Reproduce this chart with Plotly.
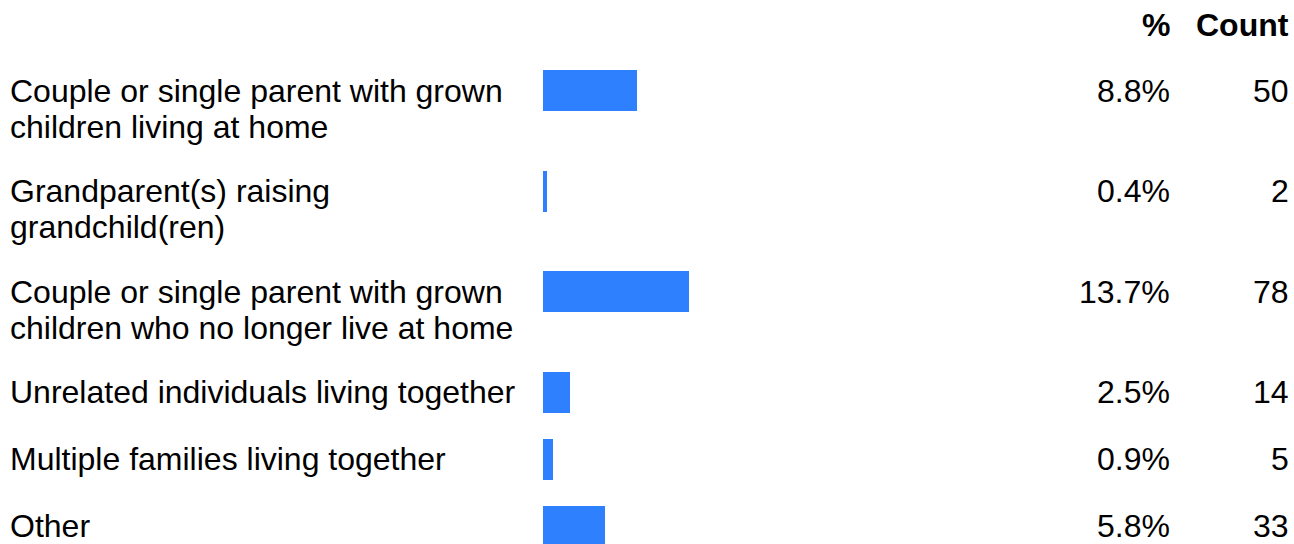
import plotly.graph_objects as go

categories = [
    "Couple or single parent with grown<br>children living at home",
    "Grandparent(s) raising<br>grandchild(ren)",
    "Couple or single parent with grown<br>children who no longer live at home",
    "Unrelated individuals living together",
    "Multiple families living together",
    "Other",
]
percents = [8.8, 0.4, 13.7, 2.5, 0.9, 5.8]
counts = [50, 2, 78, 14, 5, 33]
headers = ["%", "Count"]

W, H = 1294, 544
FONT = "Liberation Sans, Arial, sans-serif"
FS = 32
BAR_COLOR = "#2f80ff"

# layout computations (pixels)
line_step = 36
row_unit = 33.5
bar_h = 41
top = 70.0
centers = []
for cat in categories:
    n = len(cat.split("<br>"))
    centers.append(top + bar_h / 2)
    top += row_unit * (n + 1)

x0_px = 543
px_per_pct = 10.67
xmax = 50
dom_end = (x0_px + px_per_pct * xmax) / W

fig = go.Figure()
fig.add_trace(go.Bar(
    x=percents, y=centers, orientation="h", width=bar_h,
    marker=dict(color=BAR_COLOR, line=dict(width=0)),
    hoverinfo="skip", showlegend=False,
))

font = dict(family=FONT, size=FS, color="black")
ann = []
for cat, c, p, n in zip(categories, centers, percents, counts):
    for i, line in enumerate(cat.split("<br>")):
        ann.append(dict(xref="paper", yref="y", x=8 / W, y=c + i * line_step,
                        xanchor="left", yanchor="middle", text=line, showarrow=False,
                        font=font))
    ann.append(dict(xref="paper", yref="y", x=1172 / W, y=c, xanchor="right",
                    yanchor="middle", text=f"{p:.1f}%", showarrow=False, font=font))
    ann.append(dict(xref="paper", yref="y", x=1291 / W, y=c, xanchor="right",
                    yanchor="middle", text=str(n), showarrow=False, font=font))

for h, xp in zip(headers, [1172, 1291]):
    ann.append(dict(xref="paper", yref="y", x=xp / W, y=25, xanchor="right",
                    yanchor="middle", text=f"<b>{h}</b>", showarrow=False, font=font))

fig.update_layout(
    width=W, height=H, margin=dict(l=0, r=0, t=0, b=0),
    paper_bgcolor="white", plot_bgcolor="white",
    xaxis=dict(domain=[x0_px / W, dom_end], range=[0, xmax], visible=False, fixedrange=True),
    yaxis=dict(domain=[0, 1], range=[H, 0], visible=False, fixedrange=True),
    annotations=ann, bargap=0,
)

fig.write_html("out.html", config={"displayModeBar": False},
               post_script="document.body.style.margin='0';document.body.style.overflow='hidden';")
